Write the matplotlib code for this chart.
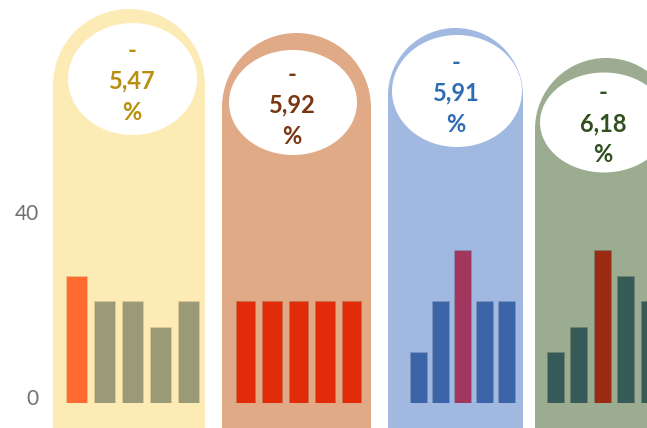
import matplotlib
matplotlib.use("Agg")
import matplotlib.pyplot as plt
from matplotlib.patches import Rectangle, Wedge, Ellipse
from matplotlib.transforms import ScaledTranslation

# ---------------- data ----------------
labels = ["5,47", "5,92", "5,91", "6,18"]
bars_1 = [27.5, 22, 22, 16.5, 22]
bars_2 = [22, 22, 22, 22, 22]
bars_3 = [11, 22, 33, 22, 22]
bars_4 = [11, 16.5, 33, 27.5, 22]
highlight = [0, None, 2, 2]
yticks = [0, 40]

# ---------------- styles ----------------
W, H = 647, 428
bg_colors = ["#FDEBB5", "#E0AA87", "#A1B9E1", "#9CAC90"]
text_colors = ["#B8900F", "#7A3612", "#2E6DB4", "#30501F"]
bar_colors = ["#9A9A79", "#E22B08", "#3B65A8", "#355A58"]
hl_colors = ["#FF6A30", "#E22B08", "#A1375F", "#9B2A12"]
edge_colors = ["#E8C890", "#C0704F", "#7F93B8", "#6F8070"]

# pills: left, right, top (pixels)
pills = [(53, 205, 9), (222, 371, 33), (388, 523, 28), (535, 677, 58)]
# ellipses: cx, cy, w, h
ellipses = [(132.5, 79, 129, 112), (293, 102.5, 128, 105),
            (457, 91, 130, 112), (604, 122.5, 128, 100)]
# text: cx, y of middle line
texts = [(132, 81), (292, 105), (456, 93), (603, 124)]
# bar axes: left, width, bar width fraction
bar_axes = [(62.5, 140, 0.72), (232.3, 132.5, 0.73), (407.5, 110.5, 0.77), (543.8, 117, 0.73)]
series = [bars_1, bars_2, bars_3, bars_4]

fig = plt.figure(figsize=(W / 100, H / 100), dpi=100)
fig.patch.set_facecolor("white")
T = fig.dpi_scale_trans

for i, (l, r, top) in enumerate(pills):
    w = r - l
    rad = w / 2
    cyc = top + rad  # center of semicircle (pixels from top)
    rect = Rectangle((l / 100, -0.1), w / 100, (H - cyc) / 100 + 0.1 + 0.005,
                     transform=T, fc=bg_colors[i], ec="none", zorder=-3)
    fig.add_artist(rect)
    wd = Wedge(((l + rad) / 100, (H - cyc) / 100), rad / 100, 0, 180,
               transform=T, fc=bg_colors[i], ec="none", zorder=-3)
    fig.add_artist(wd)
    cx, cy, ew, eh = ellipses[i]
    e = Ellipse((cx / 100, (H - cy) / 100), ew / 100, eh / 100, transform=T,
                fc="white", ec="none", zorder=-2)
    fig.add_artist(e)
    tx, ty = texts[i]
    for dy, s in [(-31, "-"), (0, labels[i]), (31, "%")]:
        fig.text(tx / 100, (H - (ty + dy)) / 100, s, transform=T, ha="center",
                 va="center", fontsize=17, fontweight="bold", color=text_colors[i],
                 family=["Lato", "DejaVu Sans"], zorder=5)

axes = []
for i, (left, width, bw) in enumerate(bar_axes):
    ax = fig.add_axes([left / W, 25 / H, width / W, 185 / H])
    ax.set_facecolor("none")
    vals = series[i]
    cols = [hl_colors[i] if j == highlight[i] else bar_colors[i] for j in range(len(vals))]
    ax.bar(range(len(vals)), vals, width=bw, color=cols,
           edgecolor=edge_colors[i], linewidth=0.5)
    ax.set_xlim(-0.5, len(vals) - 0.5)
    ax.set_ylim(0, 40)
    for sp in ax.spines.values():
        sp.set_visible(False)
    ax.set_xticks([])
    if i == 0:
        ax.set_yticks(yticks)
        ax.set_yticklabels([str(v) for v in yticks])
        ax.tick_params(axis="y", length=0, pad=17, labelsize=15, labelcolor="#707070")
        for lbl in ax.get_yticklabels():
            lbl.set_fontfamily(["Lato", "DejaVu Sans"])
            lbl.set_fontweight("normal")
            lbl.set_transform(lbl.get_transform() + ScaledTranslation(0, 6 / 100, T))
    else:
        ax.set_yticks([])
    axes.append(ax)

fig.savefig("out.png", dpi=100, facecolor="white")
